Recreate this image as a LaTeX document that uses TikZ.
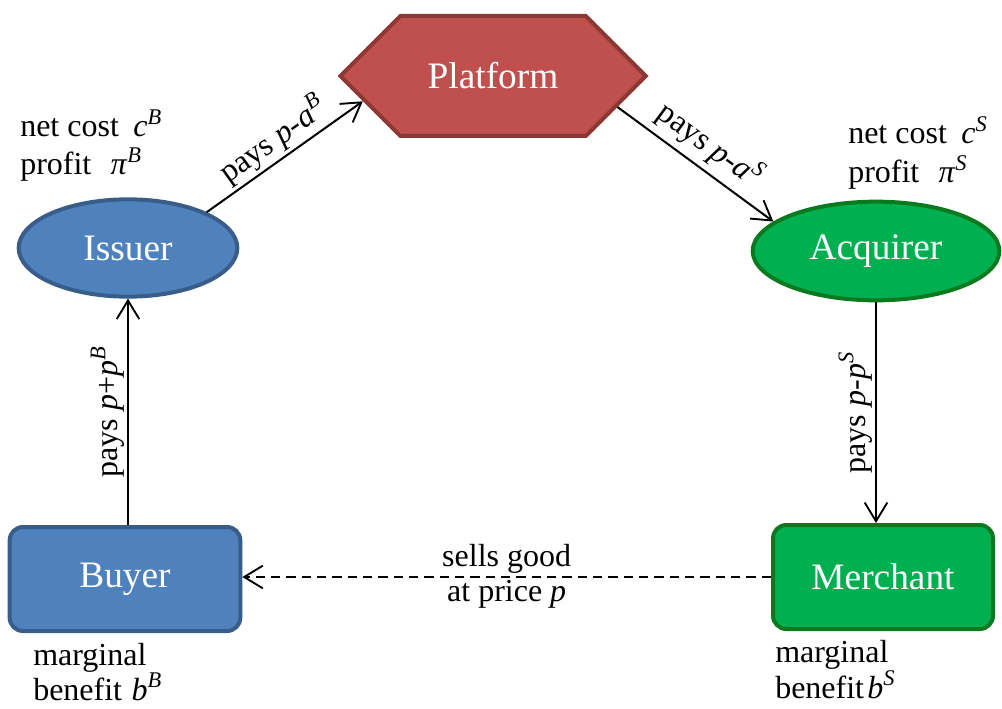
\documentclass[tikz,border=0pt]{standalone}
\usepackage{fontspec}
\setmainfont{Liberation Serif}
\usetikzlibrary{shapes.geometric,shapes.symbols,arrows.meta,calc}
\definecolor{bluef}{HTML}{4F81BD}
\definecolor{blued}{HTML}{385D8A}
\definecolor{redf}{HTML}{C0504D}
\definecolor{redd}{HTML}{8C3836}
\definecolor{greenf}{HTML}{00B050}
\definecolor{greend}{HTML}{0B7A1F}
\newcommand{\supit}[2]{\textit{#1}\textsuperscript{\textit{#2}}}
\begin{document}
\begin{tikzpicture}[x=0.75pt,y=-0.75pt,
  ent/.style={line width=3pt, text=white, font=\fontsize{28}{32}\selectfont, inner sep=0pt},
  lab/.style={font=\fontsize{24}{28}\selectfont, inner sep=0pt, anchor=base west},
  elab/.style={font=\fontsize{24}{28}\selectfont, inner sep=2pt},
  conn/.style={line width=1.5pt, -{Straight Barb[length=14pt,width=17pt,line width=1.4pt]}},
  dconn/.style={conn, dash pattern=on 7pt off 4.5pt}
]
\useasboundingbox (0,0) rectangle (1002,709);

% nodes
\node[ent, shape=signal, signal to=east and west, signal pointer angle=90,
      fill=redf, draw=redd, minimum width=229pt, minimum height=90pt] (plat) at (493,76) {Platform};
\node[ent, ellipse, fill=bluef, draw=blued, minimum width=164pt, minimum height=73pt] (iss) at (128,248) {Issuer};
\node[ent, ellipse, fill=greenf, draw=greend, minimum width=185pt, minimum height=74pt] (acq) at (876,251) {Acquirer};
\node[ent, rectangle, rounded corners=10pt, fill=bluef, draw=blued, minimum width=173pt, minimum height=78pt] (buy) at (125,579) {Buyer};
\node[ent, rectangle, rounded corners=10pt, fill=greenf, draw=greend, minimum width=165pt, minimum height=78pt] (mer) at (883,577) {Merchant};

% side texts
\node[lab] (ncB) at (20,137) {net cost\hspace{0.45em}\supit{c}{B}};
\node[lab] (prB) at (20,175) {profit\hspace{0.6em}\supit{π}{B}};
\node[lab] (ncS) at (848,144) {net cost\hspace{0.45em}\supit{c}{S}};
\node[lab] (prS) at (848,183) {profit\hspace{0.6em}\supit{π}{S}};
\node[lab] (mgB) at (33,665) {marginal};
\node[lab] (bfB) at (33,700) {benefit\hspace{0.3em}\supit{b}{B}};
\node[lab] (mgS) at (775,662) {marginal};
\node[lab] (bfS) at (775,698) {benefit\hspace{0.1em}\supit{b}{S}};

% connectors
\draw[conn] (iss.north east) -- (plat.191)
  node[elab, midway, sloped, above] {pays \textit{p}-\supit{a}{B}};
\draw[conn] (plat.346) -- (acq.164)
  node[elab, midway, sloped, above, inner sep=5pt] {pays \textit{p}-\supit{a}{S}};
\draw[conn] (acq.south) -- (acq.south |- mer.north)
  node[elab, midway, rotate=90, anchor=south] {pays \textit{p}-\supit{p}{S}};
\draw[conn] (buy.north -| iss.south) -- (iss.south)
  node[elab, midway, sloped, above] {pays \textit{p}+\supit{p}{B}};
\draw[dconn] (mer.west) -- (mer.west -| buy.east)
  node[elab, midway, above] {sells good}
  node[elab, midway, below] {at price \textit{p}};
\end{tikzpicture}
\end{document}
